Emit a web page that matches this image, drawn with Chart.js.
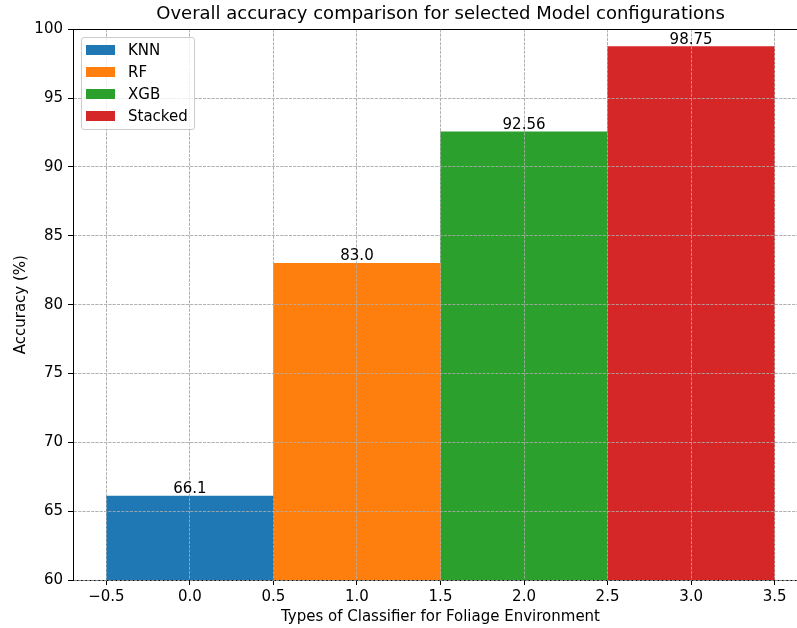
<!DOCTYPE html>
<html><head><meta charset="utf-8">
<script src="https://cdn.jsdelivr.net/npm/chart.js@4/dist/chart.umd.min.js"></script>
<style>
html,body{margin:0;padding:0;background:#fff;overflow:hidden}
#wrap{position:relative;width:797px;height:628px;overflow:hidden;background:#fff}
#c{position:absolute;left:0;top:0}
#legend{position:absolute;left:81px;top:37px;width:112px;height:91px;border:1px solid #cccccc;border-radius:3px;background:rgba(255,255,255,0.8);font-family:'DejaVu Sans';font-size:15px;color:#000}
.row{position:absolute;left:4px;height:22px;display:flex;align-items:center;white-space:nowrap}
.sw{width:29px;height:10px;margin-right:13px}
</style></head>
<body><div id="wrap"><canvas id="c" width="831" height="628"></canvas><div id="legend"></div></div>
<script>
const categories = ['KNN', 'RF', 'XGB', 'Stacked'];
const positions = [0, 1, 2, 3];
const accuracy = [66.1, 83.0, 92.56, 98.75];
const valueLabels = ['66.1', '83.0', '92.56', '98.75'];
const xTicks = [-0.5, 0, 0.5, 1, 1.5, 2, 2.5, 3, 3.5];
const yTicks = [60, 65, 70, 75, 80, 85, 90, 95, 100];
const colors = ['#1f77b4', '#ff7f0e', '#2ca02c', '#d62728'];

const FONT = 'DejaVu Sans';
Chart.defaults.font.family = FONT;
Chart.defaults.color = '#000';

const datasets = categories.map((name, i) => ({
  label: name,
  data: [{ x: positions[i], y: accuracy[i] }],
  backgroundColor: colors[i],
  borderWidth: 0,
  xAxisID: 'xb',
  yAxisID: 'y'
}));

const gridOnTop = {
  id: 'gridOnTop',
  afterDatasetsDraw(chart) {
    const ctx = chart.ctx;
    ['x', 'y'].forEach(id => {
      const s = chart.scales[id];
      ctx.save();
      s.drawGrid(chart.chartArea);
      s.drawBorder();
      ctx.restore();
    });
  }
};

const barLabels = {
  id: 'barLabels',
  afterDatasetsDraw(chart) {
    const ctx = chart.ctx;
    ctx.save();
    ctx.font = '15px "' + FONT + '"';
    ctx.fillStyle = '#000';
    ctx.textAlign = 'center';
    ctx.textBaseline = 'alphabetic';
    chart.data.datasets.forEach((ds, i) => {
      const meta = chart.getDatasetMeta(i);
      meta.data.forEach(el => {
        ctx.fillText(valueLabels[i], el.x, el.y - 3);
      });
    });
    ctx.restore();
  }
};

const frame = {
  id: 'frame',
  afterDraw(chart) {
    const { ctx, chartArea: a } = chart;
    ctx.save();
    ctx.strokeStyle = '#000';
    ctx.lineWidth = 1;
    ctx.beginPath();
    ctx.moveTo(a.left, Math.round(a.top) + 0.5);
    ctx.lineTo(a.right, Math.round(a.top) + 0.5);
    ctx.moveTo(Math.round(a.right) + 0.5, a.top);
    ctx.lineTo(Math.round(a.right) + 0.5, a.bottom);
    ctx.stroke();
    ctx.restore();
  }
};

const fmtX = v => (v < 0 ? '\u2212' : '') + Math.abs(v).toFixed(1);

new Chart(document.getElementById('c'), {
  type: 'bar',
  data: { datasets },
  options: {
    responsive: false,
    animation: false,
    devicePixelRatio: 1,
    grouped: false,
    barPercentage: 1,
    categoryPercentage: 1,
    layout: { padding: { left: 0, right: 23, top: 0, bottom: 0 } },
    plugins: {
      legend: { display: false },
      tooltip: { enabled: false },
      title: {
        display: true,
        fullSize: false,
        text: 'Overall accuracy comparison for selected Model configurations',
        color: '#000',
        font: { size: 18, weight: 'normal', family: FONT },
        padding: { top: 4, bottom: 3.7 }
      }
    },
    scales: {
      x: {
        type: 'linear',
        position: 'bottom',
        min: -0.7,
        max: 3.7,
        offset: false,
        afterBuildTicks: s => { s.ticks = xTicks.map(v => ({ value: v })); },
        afterFit: s => { s.height = 48; },
        ticks: { callback: v => fmtX(v), font: { size: 15 }, color: '#000', padding: 3, maxRotation: 0, autoSkip: false },
        grid: { color: '#b0b0b0', lineWidth: 0.8, tickColor: '#000', tickWidth: 1, tickLength: 5, offset: false },
        border: { color: '#000', width: 1, dash: [3, 1.3] },
        title: { display: true, text: 'Types of Classifier for Foliage Environment', font: { size: 15 }, color: '#000', padding: { top: 0, bottom: 2 } }
      },
      xb: {
        type: 'linear',
        display: false,
        min: -0.7,
        max: 3.7,
        offset: false,
        afterBuildTicks: s => { s.ticks = positions.map(v => ({ value: v })); }
      },
      y: {
        type: 'linear',
        position: 'left',
        min: 60,
        max: 100,
        afterBuildTicks: s => { s.ticks = yTicks.map(v => ({ value: v })); },
        afterFit: s => { s.width = 73; },
        ticks: { callback: v => String(v), font: { size: 15 }, color: '#000', padding: 5 },
        grid: { color: '#b0b0b0', lineWidth: 0.8, tickColor: '#000', tickWidth: 1, tickLength: 5 },
        border: { color: '#000', width: 1, dash: [3, 1.3] },
        title: { display: true, text: 'Accuracy (%)', font: { size: 15 }, color: '#000', padding: { top: 12, bottom: 0 } }
      }
    }
  },
  plugins: [gridOnTop, barLabels, frame]
});

const leg = document.getElementById('legend');
categories.forEach((name, i) => {
  const row = document.createElement('div');
  row.className = 'row';
  row.style.top = (1 + i * 21.95) + 'px';
  const sw = document.createElement('span');
  sw.className = 'sw';
  sw.style.background = colors[i];
  const tx = document.createElement('span');
  tx.textContent = name;
  row.appendChild(sw);
  row.appendChild(tx);
  leg.appendChild(row);
});
</script>
</body></html>
